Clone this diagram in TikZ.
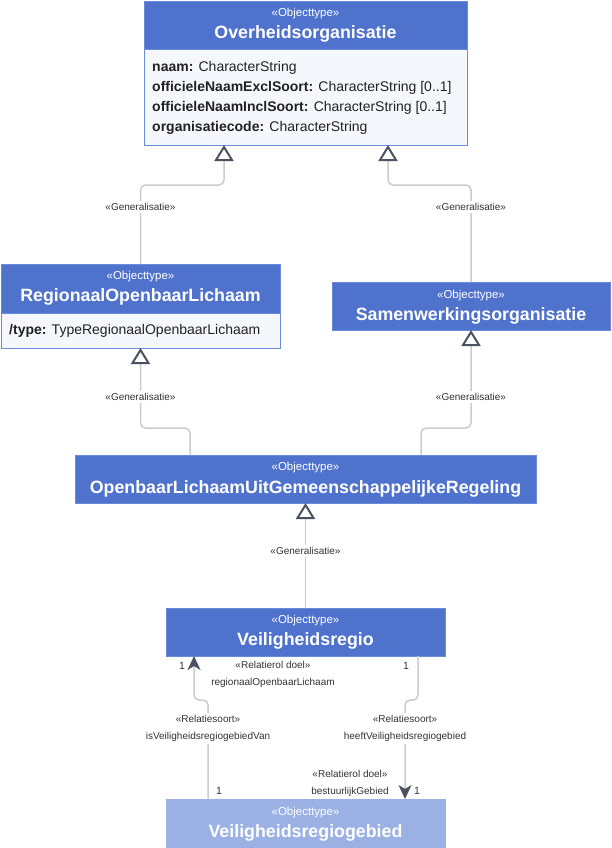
\documentclass[tikz,border=0pt]{standalone}
\usepackage{fontspec}
\setmainfont{Liberation Sans}
\usetikzlibrary{arrows.meta}
\definecolor{hdrblue}{HTML}{4F72CD}
\definecolor{hdrlight}{HTML}{9BB0E3}
\definecolor{bodyfill}{HTML}{F5F7FC}
\definecolor{boxline}{HTML}{6A8ADA}
\definecolor{conn}{HTML}{CCCCCC}
\definecolor{tipc}{HTML}{4A5262}
\definecolor{lblc}{HTML}{333333}
\definecolor{attrc}{HTML}{222222}
\begin{document}
\begin{tikzpicture}[x=1pt,y=-1pt,
  hdr/.style={draw=boxline, fill=hdrblue, line width=0.8pt, anchor=north west, inner sep=0pt, outer sep=0pt},
  hdrl/.style={hdr, draw=hdrlight, fill=hdrlight},
  body/.style={draw=boxline, fill=bodyfill, line width=0.8pt, anchor=north west, inner sep=0pt, outer sep=0pt},
  stereo/.style={text=white, font=\fontsize{11.5}{13}\selectfont, inner sep=0pt},
  ttl/.style={text=white, font=\fontsize{17.8}{19}\selectfont\bfseries, inner sep=0pt},
  attr/.style={anchor=west, text=attrc, font=\fontsize{14}{15}\selectfont, inner sep=0pt},
  gen/.style={draw=conn, line width=1.5pt, rounded corners=5pt,
    -{Triangle[color=tipc, fill=white, length=16pt, width=19pt, line width=2pt]}},
  assoc/.style={draw=conn, line width=1.5pt, rounded corners=5pt,
    -{Stealth[color=tipc, length=14pt, width=13pt, inset=4pt]}},
  lab/.style={fill=white, text=lblc, font=\fontsize{10}{17}\selectfont, inner sep=2pt, align=center},
  mult/.style={text=lblc, font=\fontsize{10.5}{12}\selectfont, inner sep=0pt}
]
\fill[white] (0,0) rectangle (611,848);
\useasboundingbox (0,0) rectangle (611,848);

% Overheidsorganisatie
\node[hdr, minimum width=323pt, minimum height=48pt] (ov) at (144,1) {};
\node[body, minimum width=323pt, minimum height=96pt] (ovb) at (144,49) {};
\node[stereo] (ovs) at (305.5,14) {«Objecttype»};
\node[ttl] (ovt) at (305.5,33.5) {Overheidsorganisatie};
\node[attr] (ova1) at (152,68) {\textbf{naam:} CharacterString};
\node[attr] (ova2) at (152,88) {\textbf{officieleNaamExclSoort:} CharacterString [0..1]};
\node[attr] (ova3) at (152,108) {\textbf{officieleNaamInclSoort:} CharacterString [0..1]};
\node[attr] (ova4) at (152,128) {\textbf{organisatiecode:} CharacterString};

% RegionaalOpenbaarLichaam
\node[hdr, minimum width=279pt, minimum height=49pt] (rol) at (1,264) {};
\node[body, minimum width=279pt, minimum height=35pt] (rolb) at (1,313) {};
\node[stereo] (rols) at (140.5,277) {«Objecttype»};
\node[ttl] (rolt) at (140.5,296.5) {RegionaalOpenbaarLichaam};
\node[attr] (rola1) at (9,331) {\textbf{/type:} TypeRegionaalOpenbaarLichaam};

% Samenwerkingsorganisatie
\node[hdr, minimum width=278pt, minimum height=48pt] (sam) at (332,282) {};
\node[stereo] (sams) at (471,296) {«Objecttype»};
\node[ttl] (samt) at (471,315.5) {Samenwerkingsorganisatie};

% OpenbaarLichaamUitGemeenschappelijkeRegeling
\node[hdr, minimum width=461pt, minimum height=48pt] (olr) at (75,455) {};
\node[stereo] (olrs) at (305.5,468) {«Objecttype»};
\node[ttl] (olrt) at (305.5,488.5) {OpenbaarLichaamUitGemeenschappelijkeRegeling};

% Veiligheidsregio
\node[hdr, minimum width=279pt, minimum height=48pt] (vr) at (166,608) {};
\node[stereo] (vrs) at (305.5,621) {«Objecttype»};
\node[ttl] (vrt) at (305.5,640.5) {Veiligheidsregio};

% Veiligheidsregiogebied
\node[hdrl, minimum width=279pt, minimum height=48pt] (vg) at (166,799) {};
\node[stereo] (vgs) at (305.5,813) {«Objecttype»};
\node[ttl] (vgt) at (305.5,832.5) {Veiligheidsregiogebied};

% Generalisaties
\draw[gen] (rol.north) -- (rol.north |- 0,185) -| ([xshift=80pt]ovb.south west);
\node[lab] (g1) at (140.5,207) {«Generalisatie»};
\draw[gen] (sam.north) -- (sam.north |- 0,185) -| ([xshift=244pt]ovb.south west);
\node[lab] (g2) at (471,207) {«Generalisatie»};
\draw[gen] ([xshift=115pt]olr.north west) -- ([xshift=115pt]olr.north west |- 0,428) -| (rolb.south);
\node[lab] (g3) at (140.5,397) {«Generalisatie»};
\draw[gen] ([xshift=346pt]olr.north west) -- ([xshift=346pt]olr.north west |- 0,428) -| (sam.south);
\node[lab] (g4) at (471,397) {«Generalisatie»};
\draw[gen] (vr.north) -- (olr.south);
\node[lab] (g5) at (305.5,551) {«Generalisatie»};

% Associaties
\draw[assoc] ([xshift=42pt]vg.north west) -- ([xshift=42pt]vg.north west |- 0,700) -| ([xshift=28pt]vr.south west);
\node[lab] (a1) at (208,728.5) {«Relatiesoort»\\isVeiligheidsregiogebiedVan};
\node[lab, fill=none] (a1r) at (273,674.5) {«Relatierol doel»\\regionaalOpenbaarLichaam};
\node[mult] (a1m1) at (182,666) {1};
\node[mult] (a1m2) at (219,791) {1};

\draw[assoc] ([xshift=252pt]vr.south west) -- ([xshift=252pt]vr.south west |- 0,700) -| ([xshift=239pt]vg.north west);
\node[lab] (a2) at (405,728.5) {«Relatiesoort»\\heeftVeiligheidsregiogebied};
\node[lab, fill=none] (a2r) at (350,783.5) {«Relatierol doel»\\bestuurlijkGebied};
\node[mult] (a2m1) at (406,666) {1};
\node[mult] (a2m2) at (417,791) {1};
\end{tikzpicture}
\end{document}
